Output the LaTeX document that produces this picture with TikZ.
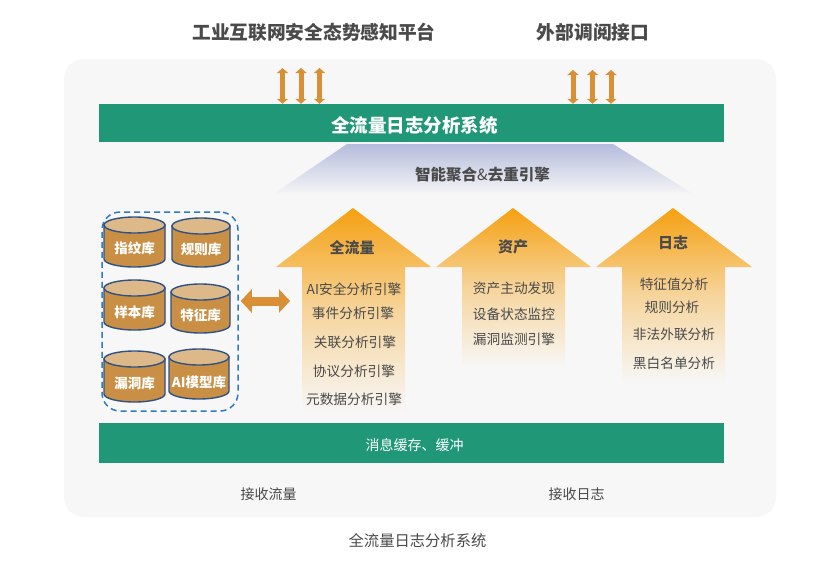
\documentclass[tikz,border=0pt]{standalone}
\usepackage{fontspec}
\setmainfont{Noto Sans CJK SC}
\usetikzlibrary{arrows.meta,shadings}
\definecolor{bgpanel}{HTML}{F7F7F7}
\definecolor{barg}{HTML}{209877}
\definecolor{orangeA}{HTML}{D98F35}
\definecolor{orangeTop}{HTML}{F5A011}
\definecolor{cylbody}{HTML}{C98F45}
\definecolor{cyltop}{HTML}{DDB98A}
\definecolor{cylline}{HTML}{2F5283}
\definecolor{dashblue}{HTML}{2F7CC0}
\definecolor{textdark}{HTML}{4A4A4A}
\definecolor{trapc}{HTML}{B5BCDC}
\tikzset{
  x=1pt,y=-1pt,
  greenbar/.style={fill=barg,draw=none},
  bartext/.style={text=white,font=\fontsize{#1}{#1}\selectfont\bfseries},
  item/.style={text=textdark,font=\fontsize{13.7}{14}\selectfont,inner sep=0},
  head/.style={text=textdark,font=\fontsize{15}{16}\selectfont\bfseries,inner sep=0},
  title/.style={text=textdark,font=\fontsize{18.7}{20}\selectfont\bfseries,inner sep=0},
  plain/.style={text=textdark,font=\fontsize{14}{15}\selectfont,inner sep=0},
  dblarrow/.style={draw=orangeA,line width=5pt,{Triangle[width=11pt,length=5pt]}-{Triangle[width=11pt,length=5pt]}},
  bigarrow/.style={draw=orangeA,line width=9pt,{Triangle[width=23pt,length=11pt]}-{Triangle[width=23pt,length=11pt]}},
  uparrow/.style={draw=none,top color=orangeTop,bottom color=bgpanel,middle color=orangeTop!40!bgpanel},
}
\newcommand{\cylnode}[7]{% name, x1, x2, ytop, ybot, text, text-y
  \fill[cylbody,draw=cylline,line width=1.4pt]
    (#2,#4+8) -- (#2,#5-8) arc[x radius={(#3-#2)/2},y radius=8,start angle=180,end angle=0]
    -- (#3,#4+8) -- cycle;
  \draw[fill=cyltop,draw=cylline,line width=1.4pt] ({(#2+#3)/2},#4+8) ellipse[x radius={(#3-#2)/2},y radius=8];
  \node[text=white,font=\fontsize{13.5}{14}\selectfont\bfseries,inner sep=0] (#1) at ({(#2+#3)/2},#7) {#6};
}
\begin{document}
\begin{tikzpicture}
\useasboundingbox (0,0) rectangle (828,574);
\fill[white] (0,0) rectangle (828,574);
\fill[bgpanel,rounded corners=20pt] (64,59) rectangle (776,517);

\node[title] (t1) at (314,32) {工业互联网安全态势感知平台};
\node[title] (t2) at (593,32) {外部调阅接口};

\node[greenbar,minimum width=625pt,minimum height=38pt,inner sep=0] (topbar) at (411.5,123) {};
\node[bartext=18.5,inner sep=0] (toplabel) at (414.5,125) {全流量日志分析系统};
\node[greenbar,minimum width=625pt,minimum height=40pt,inner sep=0] (botbar) at (411.5,443) {};
\node[text=white,inner sep=0,font=\fontsize{14}{15}\selectfont] (botlabel) at (414.5,445) {消息缓存、缓冲};

\foreach \n/\x/\y in {a/282.5/68,b/301/68,c/319.5/68,d/573/70,e/592.5/70,f/611/70}{
  \coordinate (\n) at (\x,\y);
  \draw[dblarrow] (\n) -- (\n |- topbar.north);
}

% trapezoid
\shade[top color=trapc,bottom color=bgpanel] (347,144) -- (613,144) -- (695,195) -- (272,195) -- cycle;
\node[text=textdark,font=\fontsize{15.5}{16}\selectfont\bfseries,inner sep=0] (merge) at (482.5,175) {智能聚合{\mdseries\&}去重引擎};

% up arrows
\shade[uparrow] (353,208) -- (431,267) -- (405,267) -- (405,412) -- (302,412) -- (302,267) -- (276,267) -- cycle;
\shade[uparrow] (513,208) -- (591,267) -- (565,267) -- (565,367) -- (462,367) -- (462,267) -- (436,267) -- cycle;
\shade[uparrow] (673,208) -- (752,267) -- (725,267) -- (725,382) -- (622,382) -- (622,267) -- (596,267) -- cycle;

\node[head] (h1) at (352,248) {全流量};
\node[head] (h2) at (513,247) {资产};
\node[head] (h3) at (673,243) {日志};

\foreach \n/\x/\y/\t in {
  i1/354/289/AI安全分析引擎,i2/353/313/事件分析引擎,i3/355/342/关联分析引擎,i4/354/371/协议分析引擎,i5/354/399/元数据分析引擎,
  j1/514/288/资产主动发现,j2/514/314/设备状态监控,j3/514/339/漏洞监测引擎,
  k1/674/284/特征值分析,k2/672/307/规则分析,k3/674/334/非法外联分析,k4/674/363/黑白名单分析}{
  \node[item] (\n) at (\x,\y) {\t};
}

% database group
\node[draw=dashblue,line width=1.5pt,rounded corners=18pt,minimum width=136pt,minimum height=199pt,inner sep=0,dash pattern=on 6pt off 4pt] (group) at (170,311.5) {};
\cylnode{c1}{104}{165}{217}{267}{指纹库}{248}
\cylnode{c2}{172}{230}{218}{267}{规则库}{249}
\cylnode{c3}{104}{165}{280}{330}{样本库}{312}
\cylnode{c4}{171}{230}{284}{333}{特征库}{315}
\cylnode{c5}{104}{165}{351}{402}{漏洞库}{383}
\cylnode{c6}{169}{229}{349}{399}{AI模型库}{382}

\coordinate (bigend) at (290,301);
\draw[bigarrow] (group.east |- bigend) ++(2,0) coordinate (bigstart) -- (bigend);

\node[plain] (r1) at (268.5,494.5) {接收流量};
\node[plain] (r2) at (576.5,494.5) {接收日志};
\node[text=textdark,font=\fontsize{15.3}{16}\selectfont,inner sep=0] (cap) at (417.5,541) {全流量日志分析系统};
\end{tikzpicture}
\end{document}
